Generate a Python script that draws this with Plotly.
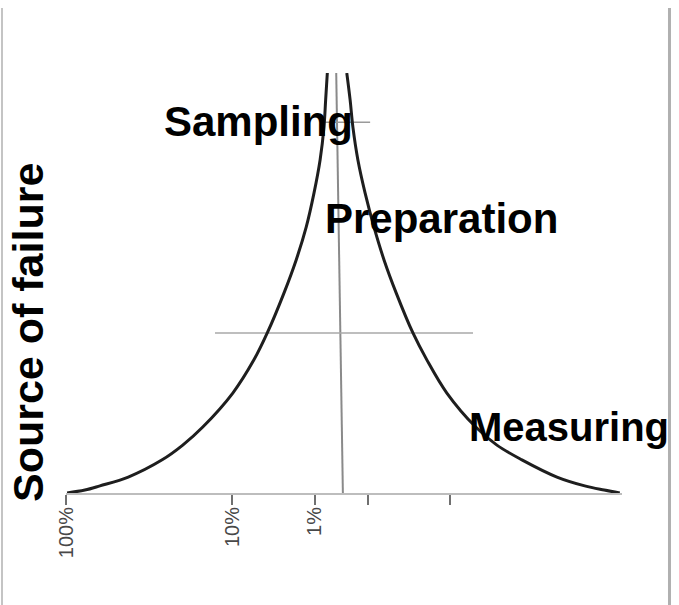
import plotly.graph_objects as go

# Schematic chart: x = position along the axis (0..100), y = level (0..100).
# Values.
left_curve_x = [47.0, 46.7, 46.4, 45.7, 44.6, 43.2, 41.4, 39.2, 36.2, 33.8, 30.0, 24.6, 21.0, 17.3, 11.2, 6.1, 3.4, 0.2]
left_curve_y = [100.0, 93.6, 87.1, 79.3, 71.4, 63.3, 55.5, 47.6, 38.1, 31.7, 23.8, 15.7, 11.4, 7.9, 3.8, 1.7, 0.7, 0.0]

right_curve_x = [50.5, 51.1, 51.6, 52.5, 53.8, 55.4, 57.2, 59.4, 62.4, 64.9, 68.5, 73.7, 77.5, 82.0, 88.3, 93.3, 96.8, 99.6]
right_curve_y = [100.0, 93.6, 87.1, 79.3, 71.4, 63.3, 55.5, 47.6, 38.1, 31.7, 23.8, 15.7, 11.4, 7.9, 3.8, 1.7, 0.7, 0.0]

center_line_x = [48.6, 49.8]
center_line_y = [100.0, 0.0]

prep_line_x = [26.8, 73.2]
prep_line_y = [38.1, 38.1]

sampling_line_x = [46.2, 54.7]
sampling_line_y = [88.3, 88.3]

tick_vals = [0.0, 29.86, 44.78, 54.32, 69.06]
tick_text = ["100%", "10%", "1%", "", ""]

labels = ["Sampling", "Preparation", "Measuring"]
label_x = [34.7, 67.6, 90.5]
label_y = [88.5, 65.4, 15.6]
label_size = [42, 42, 40]

axis_title = "Source of failure"

fig = go.Figure()

fig.add_trace(go.Scatter(x=center_line_x, y=center_line_y, mode="lines",
                         line=dict(color="#8a8a8a", width=2), hoverinfo="skip"))
fig.add_trace(go.Scatter(x=prep_line_x, y=prep_line_y, mode="lines",
                         line=dict(color="#a8a8a8", width=1.5), hoverinfo="skip"))
fig.add_trace(go.Scatter(x=sampling_line_x, y=sampling_line_y, mode="lines",
                         line=dict(color="#9a9a9a", width=1.5), hoverinfo="skip"))
fig.add_trace(go.Scatter(x=left_curve_x, y=left_curve_y, mode="lines",
                         line=dict(color="#1e1e1e", width=3, shape="spline", smoothing=1.0),
                         hoverinfo="skip", cliponaxis=False))
fig.add_trace(go.Scatter(x=right_curve_x, y=right_curve_y, mode="lines",
                         line=dict(color="#1e1e1e", width=3, shape="spline", smoothing=1.0),
                         hoverinfo="skip", cliponaxis=False))

for t, x, y, s in zip(labels, label_x, label_y, label_size):
    fig.add_annotation(x=x, y=y, xref="x", yref="y", text=t, showarrow=False,
                       xanchor="center", yanchor="middle",
                       font=dict(family="Liberation Sans, Arial, sans-serif", size=s,
                                 color="#000000", weight="bold"))

fig.add_annotation(x=-0.0683, y=0.381, xref="paper", yref="paper", text=axis_title,
                   showarrow=False, textangle=-90, xanchor="center", yanchor="middle",
                   font=dict(family="Liberation Sans, Arial, sans-serif", size=43,
                             color="#000000", weight="bold"))

# frame lines at the left and right of the picture
fig.add_shape(type="line", xref="paper", yref="paper", x0=-0.1151, x1=-0.1151,
              y0=1.155, y1=-0.27, line=dict(color="#c4c4c4", width=2))
fig.add_shape(type="line", xref="paper", yref="paper", x0=1.0854, x1=1.0854,
              y0=1.155, y1=-0.27, line=dict(color="#b0b0b0", width=3))

fig.update_layout(
    width=679, height=605,
    margin=dict(l=66, r=57, t=73, b=112),
    paper_bgcolor="white", plot_bgcolor="white",
    showlegend=False,
    xaxis=dict(range=[0, 100], showgrid=False, zeroline=False,
               showline=True, linecolor="#bdbdbd", linewidth=2,
               ticks="outside", ticklen=10, tickwidth=2, tickcolor="#707070",
               tickvals=tick_vals, ticktext=tick_text, tickangle=-90,
               ticklabelstandoff=-6,
               tickfont=dict(family="Liberation Sans Narrow, Arial Narrow, sans-serif",
                             size=20, color="#484848"),
               fixedrange=True),
    yaxis=dict(range=[0, 100], showgrid=False, zeroline=False, showline=False,
               showticklabels=False, ticks="", fixedrange=True),
)

fig.write_html("out.html", config={"displayModeBar": False},
               post_script="document.body.style.margin='0';document.body.style.overflow='hidden';")
